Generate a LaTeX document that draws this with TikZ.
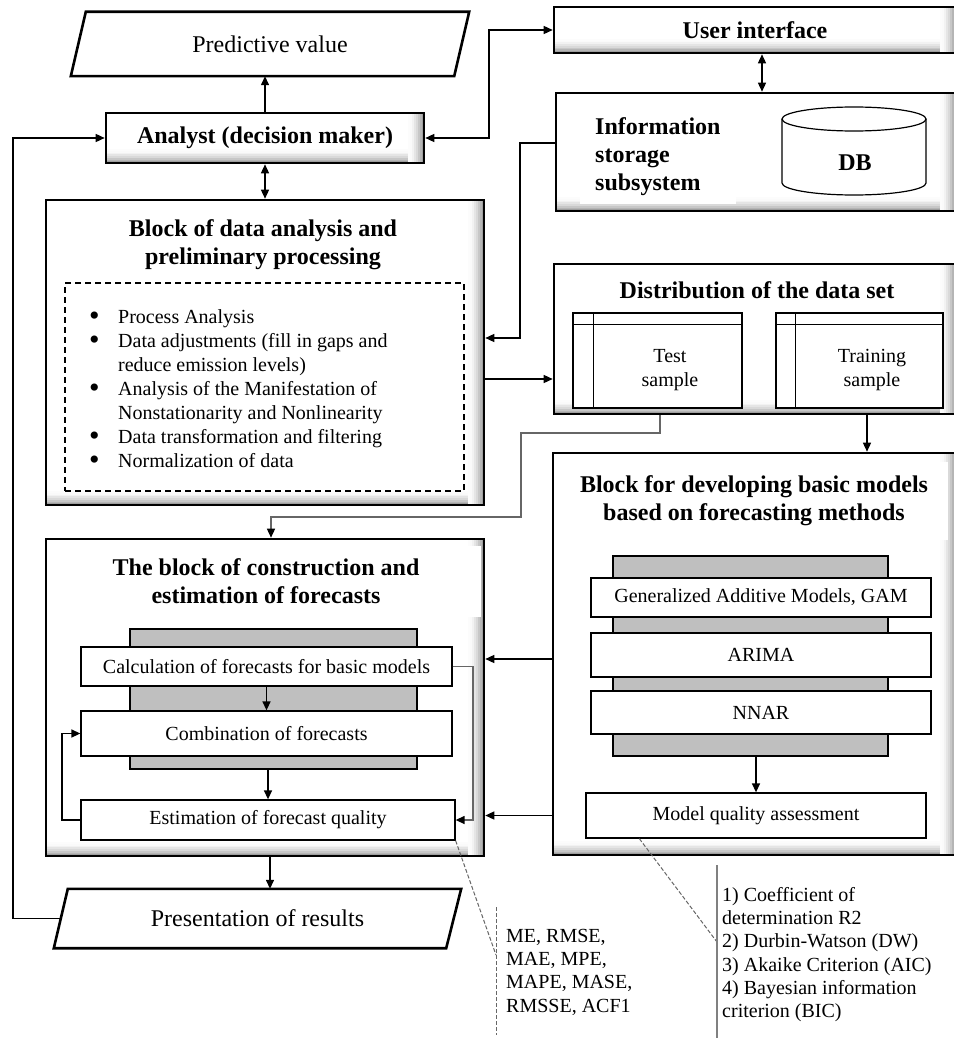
\documentclass[tikz,border=0pt]{standalone}
\usepackage{fontspec}
\setmainfont{Liberation Serif}
\usetikzlibrary{arrows.meta}
\newcommand\mybody{\fontsize{20}{24}\selectfont}
\newcommand\mytitle{\fontsize{24}{28}\selectfont\bfseries}
\newcommand\mybig{\fontsize{24}{28}\selectfont}
\newcommand\mynote{\fontsize{20}{23.3}\selectfont}
\newcommand\mybul{\raisebox{-2.2pt}[0pt][0pt]{\scalebox{1.5}{\textbullet}}}
\begin{document}
\begin{tikzpicture}[x=1pt,y=-1pt,
  sbox/.style={draw, line width=2.6pt, fill=white, inner sep=0pt,
    path picture={
      \foreach \i in {1,...,8}{
        \pgfmathtruncatemacro\gl{round(\i*\i*0.6)}
        \fill[black!\gl] ([yshift={(9-\i)*1.75pt}]path picture bounding box.south west) rectangle (path picture bounding box.south east);
      }
      \foreach \i in {1,...,8}{
        \pgfmathtruncatemacro\gl{round(\i*\i*0.6)}
        \fill[black!\gl] ([xshift={(\i-9)*2pt}]path picture bounding box.north east) rectangle (path picture bounding box.south east);
      }
    }},
  ibox/.style={draw, line width=1.3pt, fill=white, inner sep=0pt, font=\mybody},
  gbox/.style={draw, line width=1.3pt, fill=black!25, inner sep=0pt},
  dashbox/.style={draw, line width=1.1pt, dash pattern=on 6pt off 4pt, inner sep=0pt},
  plain/.style={inner sep=0pt},
  para/.style={line width=2.6pt, line join=miter},
  arr/.style={line width=1.4pt, -{Triangle[length=9pt,width=8pt]}},
  arrtwo/.style={line width=1.4pt, {Triangle[length=9pt,width=8pt]}-{Triangle[length=9pt,width=8pt]}},
  garr/.style={line width=1.4pt, draw=black!60, -{Triangle[length=9pt,width=8pt,color=black]}},
  note/.style={line width=1pt, draw=black!60, dash pattern=on 4pt off 2pt},
  notesolid/.style={line width=1.5pt, draw=black!50},
]
\useasboundingbox (0,0) rectangle (953,1038);

% helper coordinates
\coordinate (c13) at (13,0);
\coordinate (c62) at (62,0);
\coordinate (c270) at (270,0);
\coordinate (c271) at (271,0);
\coordinate (c473) at (473,0);
\coordinate (c489) at (489,0);
\coordinate (c520) at (520,0);
\coordinate (c521) at (521,0);
\coordinate (c660) at (660,0);
\coordinate (c867) at (867,0);
\coordinate (y338) at (0,338);
\coordinate (y379) at (0,379);
\coordinate (y433) at (0,433);
\coordinate (y517) at (0,517);
\coordinate (y659) at (0,659);

% Predictive value
\node[plain, minimum width=398pt, minimum height=64pt, font=\mybig] (pv) at (270,44) {Predictive value};
\draw[para] ([xshift=15pt]pv.north west) -- (pv.north east) -- ([xshift=-15pt]pv.south east) -- (pv.south west) -- cycle;

% Analyst
\node[sbox, minimum width=318pt, minimum height=50pt, font=\mytitle] (ana) at (265,138) {Analyst (decision maker)};

% User interface
\node[sbox, minimum width=402pt, minimum height=46pt, font=\mytitle] (ui) at (755,30) {User interface};

% Information storage
\node[sbox, minimum width=400pt, minimum height=118pt] (inf) at (756,152) {};
\node[anchor=west, align=left, fill=white, inner xsep=15pt, inner ysep=8pt, font=\mytitle] (inftxt) at (580,157) {Information\\storage\\subsystem};
\node[plain, minimum width=144pt, minimum height=88pt] (db) at (854,151) {};
\draw[line width=1.2pt] (782,119) -- (782,183) arc[start angle=180, end angle=360, x radius=72pt, y radius=12pt] -- (926,119);
\draw[line width=1.2pt] (854,119) ellipse [x radius=72pt, y radius=12pt];
\node[font=\mytitle] (dbtxt) at (855,163) {DB};

% Block of data analysis
\node[sbox, minimum width=438pt, minimum height=305pt] (dab) at (265,352.5) {};
\node[font=\mytitle, align=center] (dabt) at (263,245) {Block of data analysis and\\preliminary processing};
\node[dashbox, minimum width=399pt, minimum height=208pt] (dabl) at (264.5,387) {};
\node[anchor=north west, inner sep=0pt, font=\mybody] (list) at (89,306) {%
\begin{tabular}{@{}p{29pt}@{}l@{}}
\mybul & Process Analysis\\
\mybul & Data adjustments (fill in gaps and\\
 & reduce emission levels)\\
\mybul & Analysis of the Manifestation of\\
 & Nonstationarity and Nonlinearity\\
\mybul & Data transformation and filtering\\
\mybul & Normalization of data
\end{tabular}};

% Distribution of the data set
\node[sbox, minimum width=402pt, minimum height=150pt] (dist) at (755,339) {};
\node[font=\mytitle] (distt) at (757,290) {Distribution of the data set};
\node[ibox, minimum width=169pt, minimum height=95pt] (tst) at (657.5,360.5) {};
\draw[line width=1.3pt] ([xshift=21pt]tst.north west) -- ([xshift=21pt]tst.south west);
\draw[line width=1.3pt] ([yshift=-12pt]tst.north west) -- ([yshift=-12pt]tst.north east);
\node[font=\mybody, align=center] (tstt) at (670,370) {Test\\sample};
\node[ibox, minimum width=167pt, minimum height=95pt] (trn) at (859.5,360.5) {};
\draw[line width=1.3pt] ([xshift=20pt]trn.north west) -- ([xshift=20pt]trn.south west);
\draw[line width=1.3pt] ([yshift=-12pt]trn.north west) -- ([yshift=-12pt]trn.north east);
\node[font=\mybody, align=center] (trnt) at (872,370) {Training\\sample};

% Block for developing basic models
\node[sbox, minimum width=403pt, minimum height=402pt] (dev) at (754.5,654) {};
\node[font=\mytitle, align=center, fill=white, minimum width=388pt, inner ysep=14pt] (devt) at (754,501) {Block for developing basic models\\based on forecasting methods};
\node[gbox, minimum width=275pt, minimum height=200pt] (devg) at (750.5,656) {};
\node[ibox, minimum width=340pt, minimum height=39pt] (gam) at (761,597.5) {Generalized Additive Models, GAM};
\node[ibox, minimum width=340pt, minimum height=44pt] (arima) at (761,655) {ARIMA};
\node[ibox, minimum width=340pt, minimum height=43pt] (nnar) at (761,712.5) {NNAR};
\node[ibox, minimum width=340pt, minimum height=45pt] (mq) at (756,815.5) {Model quality assessment};

% Block of construction and estimation
\node[sbox, minimum width=438pt, minimum height=317pt] (cb) at (265,697.5) {};
\node[font=\mytitle, align=center, fill=white, minimum width=430pt, minimum height=71pt, inner sep=0pt] (cbt) at (266,581.5) {The block of construction and\\estimation of forecasts};
\node[gbox, minimum width=287pt, minimum height=140pt] (cbg) at (273.5,699) {};
\node[ibox, minimum width=371pt, minimum height=39pt] (calc) at (266.5,666.5) {Calculation of forecasts for basic models};
\node[ibox, minimum width=371pt, minimum height=45pt] (comb) at (266.5,733.5) {Combination of forecasts};
\node[ibox, minimum width=374pt, minimum height=40pt] (est) at (268,820) {Estimation of forecast quality};

% Presentation of results
\node[plain, minimum width=407pt, minimum height=59pt, font=\mybig] (pr) at (257.5,918.5) {Presentation of results};
\draw[para] ([xshift=14pt]pr.north west) -- (pr.north east) -- ([xshift=-15pt]pr.south east) -- (pr.south west) -- cycle;

% Connectors
\draw[arr] (ana.north) -- (ana.north |- pv.south);
\draw[arrtwo] (ana.south) -- (ana.south |- dab.north);
\draw[arrtwo] (ana.east) -- (ana.east -| c489) |- (ui.west);
\draw[arrtwo] ([xshift=7pt]ui.south) -- ([xshift=7pt]ui.south |- inf.north);
\draw[arr] ([yshift=9pt]inf.west) -| (c520 |- y338) -- (dab.east |- y338);
\draw[arr] (dab.east |- y379) -- (dist.west |- y379);
\draw[garr] (c660 |- dist.south) -- (c660 |- y433) -| (c521 |- y517) -| (c271 |- cb.north);
\draw[arr] (c867 |- dist.south) -- (c867 |- dev.north);
\draw[arr] (mq.north |- devg.south) -- (mq.north);
\draw[arr] (dev.west |- y659) -- (cb.east |- y659);
\draw[arr] (dev.west |- mq.west) -- (cb.east |- mq.west);
\draw[arr] (calc.south) -- (comb.north);
\draw[arr] (est.north |- cbg.south) -- (est.north);
\draw[arr] (est.west) -- (c62 |- est.west) -- (c62 |- comb.west) -- (comb.west);
\draw[garr] (calc.east) -- (c473 |- calc.east) -- (c473 |- est.east) -- (est.east);
\draw[arr] (c270 |- cb.south) -- (c270 |- pr.north);
\draw[arr] ([xshift=7pt]pr.west) -- (c13 |- pr.west) -- (c13 |- ana.west) -- (ana.west);

% Annotations
\coordinate (mea) at (496,955);
\coordinate (meb) at (496,907);
\coordinate (mec) at (496,1035);
\draw[note] (est.south east) -- (mea);
\draw[note] (meb) -- (mec);
\node[anchor=west, align=left, inner sep=0pt, font=\mynote] (metxt) at (506,972) {ME, RMSE,\\MAE, MPE,\\MAPE, MASE,\\RMSSE, ACF1};
\coordinate (mqa) at (717,942);
\coordinate (mqb) at (717,865);
\coordinate (mqc) at (717,1040);
\draw[note] ([xshift=54pt]mq.south west) -- (mqa);
\draw[notesolid] (mqb) -- (mqc);
\node[anchor=west, align=left, inner sep=0pt, font=\mynote] (mqtxt) at (722,954.5) {1) Coefficient of\\determination R2\\2) Durbin-Watson (DW)\\3) Akaike Criterion (AIC)\\4) Bayesian information\\criterion (BIC)};
\end{tikzpicture}
\end{document}
